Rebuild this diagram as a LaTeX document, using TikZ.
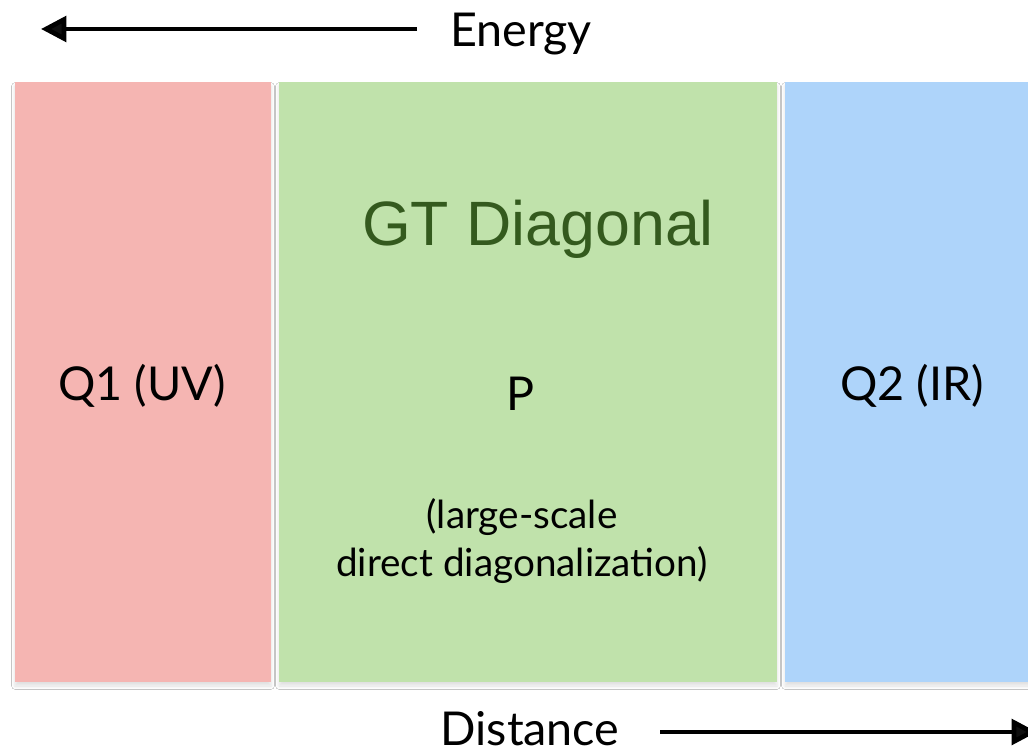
\documentclass[tikz,border=0pt]{standalone}
\usepackage{fontspec}
\setmainfont{Lato}
\newfontfamily\headfont{Liberation Sans}
\usetikzlibrary{arrows.meta,shadows.blur}

\definecolor{uvred}{RGB}{245,181,178}
\definecolor{pgreen}{RGB}{192,226,171}
\definecolor{irblue}{RGB}{174,212,250}
\definecolor{headgreen}{RGB}{52,90,30}

\tikzset{
  region/.style={blur shadow={shadow xshift=0pt, shadow yshift=-3pt, shadow blur steps=5, shadow blur radius=2.5pt, shadow opacity=12}},
  axisarrow/.style={line width=3.5pt, -{Triangle[length=19pt,width=19pt]}},
  biglabel/.style={anchor=base, inner sep=0pt, font=\fontsize{35}{42}\selectfont},
  smalllabel/.style={anchor=base, inner sep=0pt, align=center, font=\fontsize{29}{35.3}\selectfont}
}

\begin{document}
\begin{tikzpicture}[x=0.75pt,y=0.75pt,yscale=-1,xscale=1]
    % page frame
    \clip (0,0) rectangle (1028,756);
    \fill[white] (0,0) rectangle (1028,756);

    % three regions
    \fill[region, uvred]  (15,82) rectangle (271,682);
    \fill[region, pgreen] (279,82) rectangle (777,682);
    \fill[region, irblue] (785,82) rectangle (1040,682);

    % region labels
    \node[biglabel] (q1) at (142,400) {Q1 (UV)};
    \node[biglabel] (q2) at (912,400) {Q2 (IR)};
    \node[biglabel] (p) at (521,410) {P};
    \node[anchor=base, inner sep=0pt, text=headgreen, font=\headfont\fontsize{47}{56}\selectfont] (gt) at (538,245) {GT Diagonal};
    % base of a two-line node sits on its last line
    \node[smalllabel] (ddiag) at (522,576) {(large-scale\\direct diagonalization)};

    % energy axis
    \node[biglabel] (energy) at (521,47) {Energy};
    \coordinate (etail) at (417,29);
    \coordinate (ehead) at (41,29);
    \draw[axisarrow] (etail) -- (ehead);

    % distance axis
    \node[biglabel] (distance) at (530,745) {Distance};
    \coordinate (dtail) at (660,732);
    \coordinate (dhead) at (1037,732);
    \draw[axisarrow] (dtail) -- (dhead);
\end{tikzpicture}
\end{document}
